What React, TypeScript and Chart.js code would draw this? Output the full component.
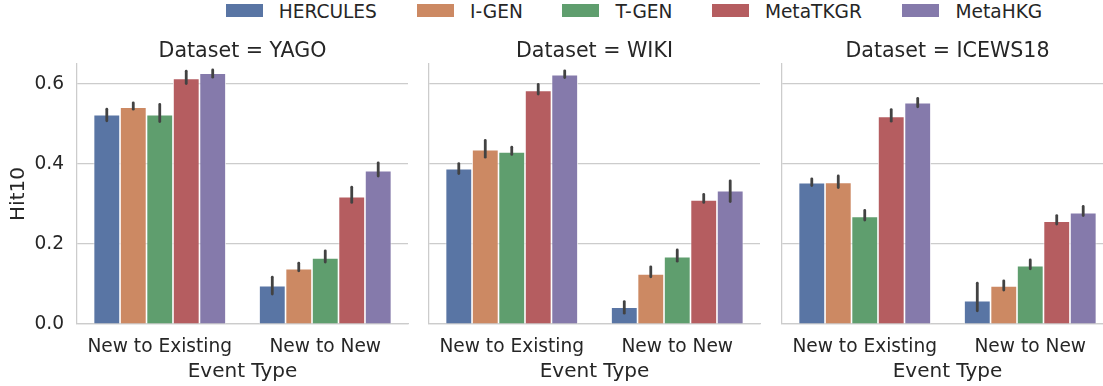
import React, { useEffect, useRef } from "react";
import { Chart, registerables } from "chart.js";

Chart.register(...registerables);

// ---- data ----
const models = ["HERCULES", "I-GEN", "T-GEN", "MetaTKGR", "MetaHKG"];
const eventTypes = ["New to Existing", "New to New"];
const yTickValues = [0, 0.2, 0.4, 0.6];

// Hit10 per model, as [New to Existing, New to New]
const yagoHit10 = [[0.523, 0.096], [0.542, 0.138], [0.523, 0.165], [0.614, 0.318], [0.627, 0.383]];
const yagoCiLow = [[0.508, 0.075], [0.537, 0.133], [0.506, 0.155], [0.601, 0.304], [0.617, 0.370]];
const yagoCiHigh = [[0.537, 0.117], [0.553, 0.152], [0.549, 0.183], [0.632, 0.342], [0.635, 0.403]];

const wikiHit10 = [[0.388, 0.042], [0.436, 0.125], [0.430, 0.168], [0.584, 0.310], [0.623, 0.333]];
const wikiCiLow = [[0.376, 0.027], [0.417, 0.118], [0.424, 0.157], [0.575, 0.304], [0.616, 0.306]];
const wikiCiHigh = [[0.401, 0.056], [0.459, 0.143], [0.442, 0.185], [0.599, 0.324], [0.633, 0.358]];

const icewsHit10 = [[0.353, 0.058], [0.354, 0.095], [0.269, 0.146], [0.519, 0.257], [0.553, 0.278]];
const icewsCiLow = [[0.346, 0.033], [0.341, 0.085], [0.260, 0.138], [0.507, 0.250], [0.543, 0.271]];
const icewsCiHigh = [[0.363, 0.102], [0.370, 0.108], [0.284, 0.160], [0.536, 0.271], [0.564, 0.294]];

// ---- styling ----
const palette = ["#5975a4", "#cc8963", "#5f9e6e", "#b55d60", "#857aab"];
const FONT = "'DejaVu Sans', 'Liberation Sans', sans-serif";
const TEXT = "#262626";
const GRID = "#cccccc";
const legendLefts = [225.5, 416.8, 562.2, 711.7, 902.3];

type PanelProps = {
  name: string;
  values: number[][];
  low: number[][];
  high: number[][];
  showY: boolean;
  left: number; // page x of the plot area's left edge
};

const PLOT_W = 331;
const PLOT_TOP = 64;
const PLOT_BOTTOM = 324;
const FIG_H = 386;

const TITLE_SIZE = 20.6;
const TITLE_LH = 1.1;
const TITLE_PAD_TOP = 40.6;

function makeErrorBars(low: number[][], high: number[][]) {
  return {
    id: "errorBars",
    afterDatasetsDraw(chart: any) {
      const { ctx } = chart;
      const y = chart.scales.y;
      ctx.save();
      ctx.strokeStyle = "#424242";
      ctx.lineWidth = 2.8;
      ctx.lineCap = "round";
      chart.data.datasets.forEach((_ds: any, i: number) => {
        const meta = chart.getDatasetMeta(i);
        meta.data.forEach((bar: any, j: number) => {
          ctx.beginPath();
          ctx.moveTo(bar.x, y.getPixelForValue(low[i][j]));
          ctx.lineTo(bar.x, y.getPixelForValue(high[i][j]));
          ctx.stroke();
        });
      });
      ctx.restore();
    },
  };
}

function Panel({ name, values, low, high, showY, left }: PanelProps) {
  const ref = useRef<HTMLCanvasElement | null>(null);
  const yWidth = showY ? left : 4;
  const canvasLeft = left - yWidth;
  const canvasW = yWidth + PLOT_W + 2;

  useEffect(() => {
    if (!ref.current) return;
    const chart = new Chart(ref.current, {
      type: "bar",
      data: {
        labels: eventTypes,
        datasets: models.map((m, i) => ({
          label: m,
          data: values[i],
          backgroundColor: palette[i],
          borderColor: "#ffffff",
          borderWidth: 0.8,
          categoryPercentage: 0.8,
          barPercentage: 1.0,
        })),
      },
      options: {
        responsive: false,
        animation: false,
        layout: { padding: { left: 0, right: 2, top: 0, bottom: 0 } },
        plugins: {
          legend: { display: false },
          tooltip: { enabled: false },
          title: {
            display: true,
            text: `Dataset = ${name}`,
            color: TEXT,
            fullSize: false,
            font: { family: FONT, size: TITLE_SIZE, weight: "normal", lineHeight: TITLE_LH },
            padding: {
              top: TITLE_PAD_TOP,
              bottom: PLOT_TOP - TITLE_PAD_TOP - TITLE_SIZE * TITLE_LH,
            },
          },
        },
        scales: {
          x: {
            grid: { display: false, drawTicks: false },
            border: { display: true, color: GRID, width: 1.25 },
            ticks: {
              color: TEXT,
              font: { family: FONT, size: 18.6 },
              padding: 12,
              maxRotation: 0,
              autoSkip: false,
            },
            title: {
              display: true,
              text: "Event Type",
              color: TEXT,
              font: { family: FONT, size: 20, lineHeight: 1.2 },
              padding: { top: 0, bottom: 2 },
            },
            afterFit: (s: any) => {
              s.height = FIG_H - PLOT_BOTTOM;
            },
          },
          y: {
            min: 0,
            max: 0.65,
            afterBuildTicks: (s: any) => {
              s.ticks = yTickValues.map((v) => ({ value: v }));
            },
            grid: { color: GRID, lineWidth: 1.25, drawTicks: false },
            border: { display: true, color: GRID, width: 1.25 },
            ticks: {
              display: showY,
              color: TEXT,
              padding: 13,
              font: { family: FONT, size: 18.6 },
              callback: (v: any) => Number(v).toFixed(1),
            },
            title: {
              display: showY,
              text: "Hit10",
              color: TEXT,
              font: { family: FONT, size: 20, lineHeight: 1.2 },
              padding: { top: 7, bottom: 0 },
            },
            afterFit: (s: any) => {
              s.width = yWidth;
            },
          },
        },
      } as any,
      plugins: [makeErrorBars(low, high)],
    });
    return () => chart.destroy();
  }, []);

  return (
    <canvas
      ref={ref}
      width={canvasW}
      height={FIG_H}
      style={{ position: "absolute", left: canvasLeft, top: 0, width: canvasW, height: FIG_H }}
    />
  );
}

function Legend() {
  return (
    <>
      {models.map((m, i) => (
        <div
          key={m}
          style={{
            position: "absolute",
            left: legendLefts[i],
            top: 0,
            height: 22,
            display: "flex",
            alignItems: "center",
            whiteSpace: "nowrap",
            fontFamily: FONT,
            fontSize: 18.6,
            color: TEXT,
          }}
        >
          <span
            style={{
              display: "inline-block",
              width: 37.2,
              height: 12.7,
              background: palette[i],
              marginRight: 16,
              marginTop: -1,
            }}
          />
          <span>{m}</span>
        </div>
      ))}
    </>
  );
}

export default function App() {
  return (
    <div
      style={{
        position: "fixed",
        left: 0,
        top: 0,
        width: 1103,
        height: FIG_H,
        overflow: "hidden",
        background: "#ffffff",
      }}
    >
      <Legend />
      <Panel name="YAGO" values={yagoHit10} low={yagoCiLow} high={yagoCiHigh} showY={true} left={77} />
      <Panel name="WIKI" values={wikiHit10} low={wikiCiLow} high={wikiCiHigh} showY={false} left={429} />
      <Panel name="ICEWS18" values={icewsHit10} low={icewsCiLow} high={icewsCiHigh} showY={false} left={782} />
    </div>
  );
}
